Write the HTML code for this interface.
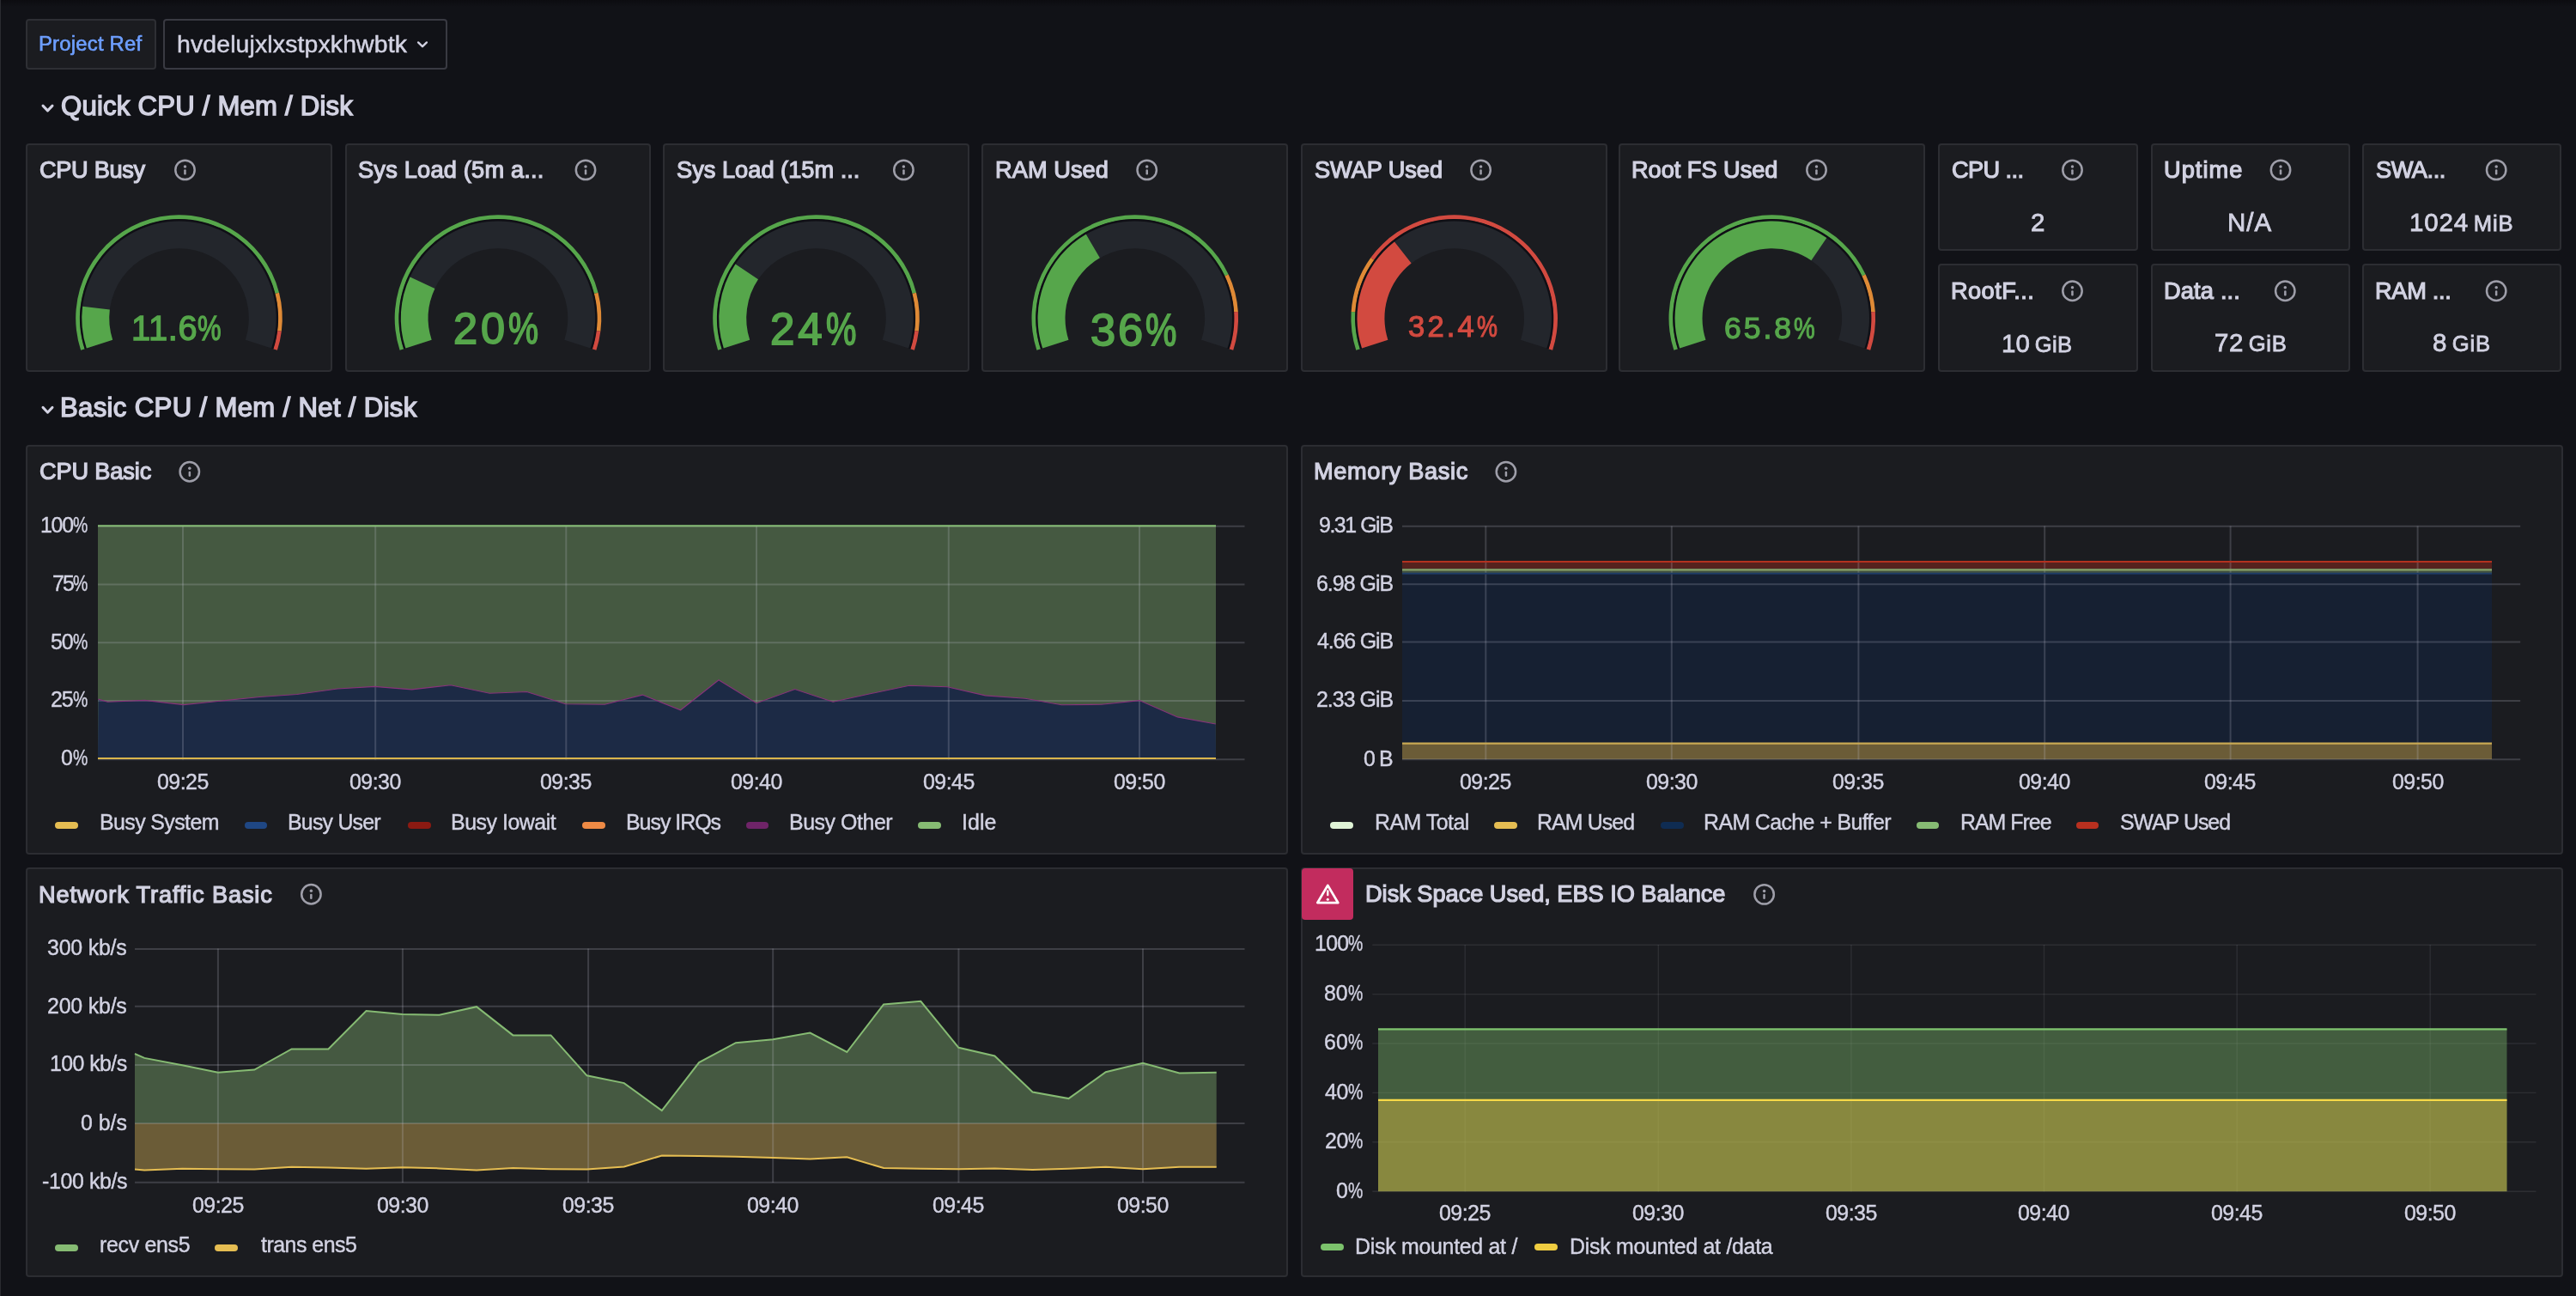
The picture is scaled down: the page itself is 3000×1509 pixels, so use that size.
<!DOCTYPE html>
<html><head><meta charset="utf-8"><title>Grafana</title><style>
*{box-sizing:border-box}
html,body{margin:0;padding:0;background:#111217;width:3000px;height:1509px;overflow:hidden}
body{position:relative;font-family:"Liberation Sans",sans-serif;color:#d2d2e2}
.p{position:absolute;border:2px solid #2c2d32;border-radius:4px}
.t{position:absolute;white-space:nowrap;line-height:1;will-change:transform;text-shadow:0 0 1.2px rgba(0,0,0,0.85)}
.pc{display:inline-block;transform:scaleX(0.78);transform-origin:0 0}
svg{position:absolute;left:0;top:0}
</style></head>
<body>
<script>(function(){var w=window.innerWidth;if(w&&Math.abs(w-3000)>2){document.documentElement.style.zoom=(w/3000);}})();</script>
<div class="p" style="left:30.0px;top:22.0px;width:152.0px;height:59.0px;background:#1b1c20;border-color:#2e2f34"></div>
<div class="p" style="left:190.0px;top:22.0px;width:331.0px;height:59.0px;background:#111217;border-color:#393a42"></div>
<div class="p" style="left:30.0px;top:166.7px;width:356.5px;height:265.9px;background:#1b1c20;"></div>
<div class="p" style="left:401.5px;top:166.7px;width:356.5px;height:265.9px;background:#1b1c20;"></div>
<div class="p" style="left:772.0px;top:166.7px;width:356.5px;height:265.9px;background:#1b1c20;"></div>
<div class="p" style="left:1143.3px;top:166.7px;width:356.5px;height:265.9px;background:#1b1c20;"></div>
<div class="p" style="left:1515.2px;top:166.7px;width:356.5px;height:265.9px;background:#1b1c20;"></div>
<div class="p" style="left:1885.3px;top:166.7px;width:356.5px;height:265.9px;background:#1b1c20;"></div>
<div class="p" style="left:2257.1px;top:166.7px;width:232.7px;height:125.5px;background:#1b1c20;"></div>
<div class="p" style="left:2257.1px;top:307.0px;width:232.7px;height:125.6px;background:#1b1c20;"></div>
<div class="p" style="left:2504.8px;top:166.7px;width:232.7px;height:125.5px;background:#1b1c20;"></div>
<div class="p" style="left:2504.8px;top:307.0px;width:232.7px;height:125.6px;background:#1b1c20;"></div>
<div class="p" style="left:2750.6px;top:166.7px;width:232.7px;height:125.5px;background:#1b1c20;"></div>
<div class="p" style="left:2750.6px;top:307.0px;width:232.7px;height:125.6px;background:#1b1c20;"></div>
<div class="p" style="left:29.7px;top:518.2px;width:1470.3px;height:476.8px;background:#1b1c20;"></div>
<div class="p" style="left:1515.0px;top:518.2px;width:1470.0px;height:476.8px;background:#1b1c20;"></div>
<div class="p" style="left:29.7px;top:1010.0px;width:1470.3px;height:477.0px;background:#1b1c20;"></div>
<div class="p" style="left:1515.0px;top:1010.0px;width:1470.0px;height:477.0px;background:#1b1c20;"></div>
<div class="p" style="left:1516.3px;top:1011.1px;width:59.6px;height:59.8px;background:#c22c5e;border:0;border-radius:4px"></div>
<svg width="3000" height="1509" viewBox="0 0 3000 1509">
<polyline points="487.1,49.4 492.0,54.2 496.9,49.4" fill="none" stroke="#d2d2e2" stroke-width="2.4" stroke-linecap="round" stroke-linejoin="round"/>
<polyline points="50.0,123.1 55.5,128.9 61.0,123.1" fill="none" stroke="#d2d2e2" stroke-width="3.0" stroke-linecap="round" stroke-linejoin="round"/>
<polyline points="50.0,474.4 55.5,480.2 61.0,474.4" fill="none" stroke="#d2d2e2" stroke-width="3.0" stroke-linecap="round" stroke-linejoin="round"/>
<circle cx="215.5" cy="197.9" r="11.2" fill="none" stroke="#9e9ea9" stroke-width="2.5"/><circle cx="215.5" cy="193.9" r="1.75" fill="#9e9ea9"/><rect x="214.2" y="197.3" width="2.5" height="6.2" rx="1.2" fill="#9e9ea9"/>
<circle cx="682.0" cy="197.9" r="11.2" fill="none" stroke="#9e9ea9" stroke-width="2.5"/><circle cx="682.0" cy="193.9" r="1.75" fill="#9e9ea9"/><rect x="680.8" y="197.3" width="2.5" height="6.2" rx="1.2" fill="#9e9ea9"/>
<circle cx="1052.4" cy="197.9" r="11.2" fill="none" stroke="#9e9ea9" stroke-width="2.5"/><circle cx="1052.4" cy="193.9" r="1.75" fill="#9e9ea9"/><rect x="1051.2" y="197.3" width="2.5" height="6.2" rx="1.2" fill="#9e9ea9"/>
<circle cx="1335.7" cy="197.9" r="11.2" fill="none" stroke="#9e9ea9" stroke-width="2.5"/><circle cx="1335.7" cy="193.9" r="1.75" fill="#9e9ea9"/><rect x="1334.5" y="197.3" width="2.5" height="6.2" rx="1.2" fill="#9e9ea9"/>
<circle cx="1724.6" cy="197.9" r="11.2" fill="none" stroke="#9e9ea9" stroke-width="2.5"/><circle cx="1724.6" cy="193.9" r="1.75" fill="#9e9ea9"/><rect x="1723.3" y="197.3" width="2.5" height="6.2" rx="1.2" fill="#9e9ea9"/>
<circle cx="2115.5" cy="197.9" r="11.2" fill="none" stroke="#9e9ea9" stroke-width="2.5"/><circle cx="2115.5" cy="193.9" r="1.75" fill="#9e9ea9"/><rect x="2114.2" y="197.3" width="2.5" height="6.2" rx="1.2" fill="#9e9ea9"/>
<path d="M94.09,407.77 A120.3,120.3 0 1 1 325.02,340.68 L320.18,341.93 A115.3,115.3 0 1 0 98.84,406.23 Z" fill="#56a64b"/>
<path d="M325.02,340.68 A120.3,120.3 0 0 1 327.85,385.68 L322.89,385.05 A115.3,115.3 0 0 0 320.18,341.93 Z" fill="#df8a36"/>
<path d="M327.85,385.68 A120.3,120.3 0 0 1 322.91,407.77 L318.16,406.23 A115.3,115.3 0 0 0 322.89,385.05 Z" fill="#d24a40"/>
<path d="M98.56,406.32 A115.6,115.6 0 1 1 318.44,406.32 L315.59,405.40 A112.6,112.6 0 1 0 101.41,405.40 Z" fill="#0f0f15"/>
<path d="M100.84,405.58 A113.2,113.2 0 1 1 316.16,405.58 L285.82,395.72 A81.3,81.3 0 1 0 131.18,395.72 Z" fill="#23262c"/>
<path d="M100.84,405.58 A113.2,113.2 0 0 1 96.16,356.69 L127.82,360.61 A81.3,81.3 0 0 0 131.18,395.72 Z" fill="#56a64b"/>
<path d="M465.59,407.77 A120.3,120.3 0 1 1 696.52,340.68 L691.68,341.93 A115.3,115.3 0 1 0 470.34,406.23 Z" fill="#56a64b"/>
<path d="M696.52,340.68 A120.3,120.3 0 0 1 699.35,385.68 L694.39,385.05 A115.3,115.3 0 0 0 691.68,341.93 Z" fill="#df8a36"/>
<path d="M699.35,385.68 A120.3,120.3 0 0 1 694.41,407.77 L689.66,406.23 A115.3,115.3 0 0 0 694.39,385.05 Z" fill="#d24a40"/>
<path d="M470.06,406.32 A115.6,115.6 0 1 1 689.94,406.32 L687.09,405.40 A112.6,112.6 0 1 0 472.91,405.40 Z" fill="#0f0f15"/>
<path d="M472.34,405.58 A113.2,113.2 0 1 1 687.66,405.58 L657.32,395.72 A81.3,81.3 0 1 0 502.68,395.72 Z" fill="#23262c"/>
<path d="M472.34,405.58 A113.2,113.2 0 0 1 477.57,322.40 L506.44,335.98 A81.3,81.3 0 0 0 502.68,395.72 Z" fill="#56a64b"/>
<path d="M836.09,407.77 A120.3,120.3 0 1 1 1067.02,340.68 L1062.18,341.93 A115.3,115.3 0 1 0 840.84,406.23 Z" fill="#56a64b"/>
<path d="M1067.02,340.68 A120.3,120.3 0 0 1 1069.85,385.68 L1064.89,385.05 A115.3,115.3 0 0 0 1062.18,341.93 Z" fill="#df8a36"/>
<path d="M1069.85,385.68 A120.3,120.3 0 0 1 1064.91,407.77 L1060.16,406.23 A115.3,115.3 0 0 0 1064.89,385.05 Z" fill="#d24a40"/>
<path d="M840.56,406.32 A115.6,115.6 0 1 1 1060.44,406.32 L1057.59,405.40 A112.6,112.6 0 1 0 843.41,405.40 Z" fill="#0f0f15"/>
<path d="M842.84,405.58 A113.2,113.2 0 1 1 1058.16,405.58 L1027.82,395.72 A81.3,81.3 0 1 0 873.18,395.72 Z" fill="#23262c"/>
<path d="M842.84,405.58 A113.2,113.2 0 0 1 856.48,307.56 L882.97,325.33 A81.3,81.3 0 0 0 873.18,395.72 Z" fill="#56a64b"/>
<path d="M1207.39,407.77 A120.3,120.3 0 0 1 1430.65,319.38 L1426.13,321.51 A115.3,115.3 0 0 0 1212.14,406.23 Z" fill="#56a64b"/>
<path d="M1430.65,319.38 A120.3,120.3 0 0 1 1441.86,363.05 L1436.87,363.36 A115.3,115.3 0 0 0 1426.13,321.51 Z" fill="#df8a36"/>
<path d="M1441.86,363.05 A120.3,120.3 0 0 1 1436.21,407.77 L1431.46,406.23 A115.3,115.3 0 0 0 1436.87,363.36 Z" fill="#d24a40"/>
<path d="M1211.86,406.32 A115.6,115.6 0 1 1 1431.74,406.32 L1428.89,405.40 A112.6,112.6 0 1 0 1214.71,405.40 Z" fill="#0f0f15"/>
<path d="M1214.14,405.58 A113.2,113.2 0 1 1 1429.46,405.58 L1399.12,395.72 A81.3,81.3 0 1 0 1244.48,395.72 Z" fill="#23262c"/>
<path d="M1214.14,405.58 A113.2,113.2 0 0 1 1264.79,272.80 L1280.86,300.36 A81.3,81.3 0 0 0 1244.48,395.72 Z" fill="#56a64b"/>
<path d="M1579.29,407.77 A120.3,120.3 0 0 1 1573.64,363.05 L1578.63,363.36 A115.3,115.3 0 0 0 1584.04,406.23 Z" fill="#56a64b"/>
<path d="M1573.64,363.05 A120.3,120.3 0 0 1 1596.38,299.89 L1600.42,302.83 A115.3,115.3 0 0 0 1578.63,363.36 Z" fill="#df8a36"/>
<path d="M1596.38,299.89 A120.3,120.3 0 0 1 1808.11,407.77 L1803.36,406.23 A115.3,115.3 0 0 0 1600.42,302.83 Z" fill="#d24a40"/>
<path d="M1583.76,406.32 A115.6,115.6 0 1 1 1803.64,406.32 L1800.79,405.40 A112.6,112.6 0 1 0 1586.61,405.40 Z" fill="#0f0f15"/>
<path d="M1586.04,405.58 A113.2,113.2 0 1 1 1801.36,405.58 L1771.02,395.72 A81.3,81.3 0 1 0 1616.38,395.72 Z" fill="#23262c"/>
<path d="M1586.04,405.58 A113.2,113.2 0 0 1 1623.98,281.42 L1643.63,306.55 A81.3,81.3 0 0 0 1616.38,395.72 Z" fill="#d24a40"/>
<path d="M1949.39,407.77 A120.3,120.3 0 0 1 2172.65,319.38 L2168.13,321.51 A115.3,115.3 0 0 0 1954.14,406.23 Z" fill="#56a64b"/>
<path d="M2172.65,319.38 A120.3,120.3 0 0 1 2183.86,363.05 L2178.87,363.36 A115.3,115.3 0 0 0 2168.13,321.51 Z" fill="#df8a36"/>
<path d="M2183.86,363.05 A120.3,120.3 0 0 1 2178.21,407.77 L2173.46,406.23 A115.3,115.3 0 0 0 2178.87,363.36 Z" fill="#d24a40"/>
<path d="M1953.86,406.32 A115.6,115.6 0 1 1 2173.74,406.32 L2170.89,405.40 A112.6,112.6 0 1 0 1956.71,405.40 Z" fill="#0f0f15"/>
<path d="M1956.14,405.58 A113.2,113.2 0 1 1 2171.46,405.58 L2141.12,395.72 A81.3,81.3 0 1 0 1986.48,395.72 Z" fill="#23262c"/>
<path d="M1956.14,405.58 A113.2,113.2 0 0 1 2127.31,276.89 L2109.41,303.30 A81.3,81.3 0 0 0 1986.48,395.72 Z" fill="#56a64b"/>
<circle cx="2413.5" cy="197.9" r="11.2" fill="none" stroke="#9e9ea9" stroke-width="2.5"/><circle cx="2413.5" cy="193.9" r="1.75" fill="#9e9ea9"/><rect x="2412.2" y="197.3" width="2.5" height="6.2" rx="1.2" fill="#9e9ea9"/>
<circle cx="2656.0" cy="197.9" r="11.2" fill="none" stroke="#9e9ea9" stroke-width="2.5"/><circle cx="2656.0" cy="193.9" r="1.75" fill="#9e9ea9"/><rect x="2654.8" y="197.3" width="2.5" height="6.2" rx="1.2" fill="#9e9ea9"/>
<circle cx="2907.2" cy="197.9" r="11.2" fill="none" stroke="#9e9ea9" stroke-width="2.5"/><circle cx="2907.2" cy="193.9" r="1.75" fill="#9e9ea9"/><rect x="2905.9" y="197.3" width="2.5" height="6.2" rx="1.2" fill="#9e9ea9"/>
<circle cx="2413.5" cy="338.8" r="11.2" fill="none" stroke="#9e9ea9" stroke-width="2.5"/><circle cx="2413.5" cy="334.8" r="1.75" fill="#9e9ea9"/><rect x="2412.2" y="338.2" width="2.5" height="6.2" rx="1.2" fill="#9e9ea9"/>
<circle cx="2661.3" cy="338.8" r="11.2" fill="none" stroke="#9e9ea9" stroke-width="2.5"/><circle cx="2661.3" cy="334.8" r="1.75" fill="#9e9ea9"/><rect x="2660.1" y="338.2" width="2.5" height="6.2" rx="1.2" fill="#9e9ea9"/>
<circle cx="2907.2" cy="338.8" r="11.2" fill="none" stroke="#9e9ea9" stroke-width="2.5"/><circle cx="2907.2" cy="334.8" r="1.75" fill="#9e9ea9"/><rect x="2905.9" y="338.2" width="2.5" height="6.2" rx="1.2" fill="#9e9ea9"/>
<path d="M1546.3,1030.9 L1558.3,1051.1 L1534.3,1051.1 Z" fill="none" stroke="#fff" stroke-width="2.8" stroke-linejoin="round"/><rect x="1545.15" y="1036.3" width="2.3" height="7" rx="1" fill="#fff"/><circle cx="1546.3" cy="1047.2" r="1.5" fill="#fff"/>
<circle cx="220.8" cy="549.3" r="11.2" fill="none" stroke="#9e9ea9" stroke-width="2.5"/><circle cx="220.8" cy="545.3" r="1.75" fill="#9e9ea9"/><rect x="219.6" y="548.7" width="2.5" height="6.2" rx="1.2" fill="#9e9ea9"/>
<circle cx="1753.9" cy="549.3" r="11.2" fill="none" stroke="#9e9ea9" stroke-width="2.5"/><circle cx="1753.9" cy="545.3" r="1.75" fill="#9e9ea9"/><rect x="1752.7" y="548.7" width="2.5" height="6.2" rx="1.2" fill="#9e9ea9"/>
<circle cx="362.4" cy="1041.3" r="11.2" fill="none" stroke="#9e9ea9" stroke-width="2.5"/><circle cx="362.4" cy="1037.3" r="1.75" fill="#9e9ea9"/><rect x="361.1" y="1040.7" width="2.5" height="6.2" rx="1.2" fill="#9e9ea9"/>
<circle cx="2054.6" cy="1041.4" r="11.2" fill="none" stroke="#9e9ea9" stroke-width="2.5"/><circle cx="2054.6" cy="1037.4" r="1.75" fill="#9e9ea9"/><rect x="2053.3" y="1040.8" width="2.5" height="6.2" rx="1.2" fill="#9e9ea9"/>
<rect x="114" y="612.5" width="1302" height="271.5" fill="#455941"/>
<polygon points="114,884 114.5,814.1 125.3,817.2 168.5,815.4 213.8,820.6 259.2,815.9 302.4,811.5 345.6,808.5 393.0,802.0 436.3,799.4 479.5,802.9 524.9,797.7 570.3,807.2 613.5,805.5 658.8,819.7 704.2,820.2 748.2,809.1 792.6,826.8 837.0,791.7 881.0,818.7 925.7,802.5 970.1,817.2 1014.5,807.5 1058.9,798.3 1103.2,799.8 1147.6,809.9 1193.9,813.3 1236.4,820.7 1282.7,820.3 1327.0,815.6 1371.4,834.9 1415.8,843.0 1416,884" fill="#1c2a45"/>
<line x1="114" y1="612.7" x2="1449.5" y2="612.7" stroke="rgba(204,204,220,0.20)" stroke-width="2"/>
<line x1="114" y1="680.4" x2="1449.5" y2="680.4" stroke="rgba(204,204,220,0.20)" stroke-width="2"/>
<line x1="114" y1="748.2" x2="1449.5" y2="748.2" stroke="rgba(204,204,220,0.20)" stroke-width="2"/>
<line x1="114" y1="816.0" x2="1449.5" y2="816.0" stroke="rgba(204,204,220,0.20)" stroke-width="2"/>
<line x1="114" y1="884.2" x2="1449.5" y2="884.2" stroke="rgba(204,204,220,0.20)" stroke-width="2"/>
<line x1="213.0" y1="612.5" x2="213.0" y2="884.5" stroke="rgba(204,204,220,0.20)" stroke-width="2"/>
<line x1="437.2" y1="612.5" x2="437.2" y2="884.5" stroke="rgba(204,204,220,0.20)" stroke-width="2"/>
<line x1="659.3" y1="612.5" x2="659.3" y2="884.5" stroke="rgba(204,204,220,0.20)" stroke-width="2"/>
<line x1="881.0" y1="612.5" x2="881.0" y2="884.5" stroke="rgba(204,204,220,0.20)" stroke-width="2"/>
<line x1="1104.8" y1="612.5" x2="1104.8" y2="884.5" stroke="rgba(204,204,220,0.20)" stroke-width="2"/>
<line x1="1327.0" y1="612.5" x2="1327.0" y2="884.5" stroke="rgba(204,204,220,0.20)" stroke-width="2"/>
<polyline points="114.5,814.1 125.3,817.2 168.5,815.4 213.8,820.6 259.2,815.9 302.4,811.5 345.6,808.5 393.0,802.0 436.3,799.4 479.5,802.9 524.9,797.7 570.3,807.2 613.5,805.5 658.8,819.7 704.2,820.2 748.2,809.1 792.6,826.8 837.0,791.7 881.0,818.7 925.7,802.5 970.1,817.2 1014.5,807.5 1058.9,798.3 1103.2,799.8 1147.6,809.9 1193.9,813.3 1236.4,820.7 1282.7,820.3 1327.0,815.6 1371.4,834.9 1415.8,843.0" fill="none" stroke="#86327a" stroke-width="1.1"/>
<line x1="114" y1="612.3" x2="1416" y2="612.3" stroke="#86bd74" stroke-width="2"/>
<line x1="114" y1="883" x2="1416" y2="883" stroke="#d9b54c" stroke-width="2"/>
<rect x="1633" y="653" width="1269" height="231" fill="#162032"/>
<rect x="1633" y="655" width="1269" height="7" fill="#55221e"/>
<rect x="1633" y="662" width="1269" height="5.5" fill="#435240"/>
<rect x="1633" y="865.5" width="1269" height="18.5" fill="#6b5c37"/>
<line x1="1633" y1="612.7" x2="2935.2" y2="612.7" stroke="rgba(204,204,220,0.20)" stroke-width="2"/>
<line x1="1633" y1="680.2" x2="2935.2" y2="680.2" stroke="rgba(204,204,220,0.20)" stroke-width="2"/>
<line x1="1633" y1="747.5" x2="2935.2" y2="747.5" stroke="rgba(204,204,220,0.20)" stroke-width="2"/>
<line x1="1633" y1="816.0" x2="2935.2" y2="816.0" stroke="rgba(204,204,220,0.20)" stroke-width="2"/>
<line x1="1633" y1="884.2" x2="2935.2" y2="884.2" stroke="rgba(204,204,220,0.20)" stroke-width="2"/>
<line x1="1730.3" y1="612.5" x2="1730.3" y2="884.5" stroke="rgba(204,204,220,0.20)" stroke-width="2"/>
<line x1="1946.8" y1="612.5" x2="1946.8" y2="884.5" stroke="rgba(204,204,220,0.20)" stroke-width="2"/>
<line x1="2164.4" y1="612.5" x2="2164.4" y2="884.5" stroke="rgba(204,204,220,0.20)" stroke-width="2"/>
<line x1="2381.2" y1="612.5" x2="2381.2" y2="884.5" stroke="rgba(204,204,220,0.20)" stroke-width="2"/>
<line x1="2597.6" y1="612.5" x2="2597.6" y2="884.5" stroke="rgba(204,204,220,0.20)" stroke-width="2"/>
<line x1="2815.6" y1="612.5" x2="2815.6" y2="884.5" stroke="rgba(204,204,220,0.20)" stroke-width="2"/>
<line x1="1633" y1="654" x2="2902" y2="654" stroke="#b3311f" stroke-width="2.2"/>
<line x1="1633" y1="663.6" x2="2902" y2="663.6" stroke="#8aa56a" stroke-width="2"/>
<line x1="1633" y1="667.8" x2="2902" y2="667.8" stroke="#1f3c66" stroke-width="2"/>
<line x1="1633" y1="865.6" x2="2902" y2="865.6" stroke="#c9a953" stroke-width="2.4"/>
<polygon points="157,1307.9 157.0,1227.0 168.2,1231.9 212.2,1240.3 253.9,1248.7 296.3,1245.5 339.6,1221.5 382.4,1221.5 426.5,1177.0 468.5,1181.0 511.7,1181.8 555.0,1172.2 597.4,1205.4 641.5,1205.4 683.5,1252.3 726.8,1261.1 770.8,1293.1 814.1,1237.1 856.9,1214.2 900.2,1210.2 943.4,1202.6 986.3,1225.0 1029.1,1169.4 1072.3,1165.8 1116.4,1219.8 1158.4,1229.5 1202.5,1271.5 1244.5,1279.1 1287.8,1248.3 1331.0,1237.9 1373.5,1249.5 1416.7,1248.7 1416.7,1307.9" fill="#455941"/>
<polygon points="157,1307.9 157.0,1361.6 168.2,1362.4 212.2,1360.8 253.9,1361.2 296.3,1361.6 339.6,1358.8 382.4,1359.6 426.5,1360.8 468.5,1359.2 511.7,1360.4 555.0,1362.4 597.4,1360.0 641.5,1361.2 683.5,1361.6 726.8,1358.4 770.8,1345.6 814.1,1346.0 856.9,1346.8 900.2,1348.0 943.4,1349.6 986.3,1347.2 1029.1,1360.0 1072.3,1360.8 1116.4,1361.2 1158.4,1360.4 1202.5,1362.0 1244.5,1360.8 1287.8,1358.8 1331.0,1361.2 1373.5,1358.8 1416.7,1358.8 1416.7,1307.9" fill="#6b5c37"/>
<line x1="157" y1="1104.9" x2="1449.5" y2="1104.9" stroke="rgba(204,204,220,0.20)" stroke-width="2"/>
<line x1="157" y1="1171.8" x2="1449.5" y2="1171.8" stroke="rgba(204,204,220,0.20)" stroke-width="2"/>
<line x1="157" y1="1239.9" x2="1449.5" y2="1239.9" stroke="rgba(204,204,220,0.20)" stroke-width="2"/>
<line x1="157" y1="1307.9" x2="1449.5" y2="1307.9" stroke="rgba(204,204,220,0.20)" stroke-width="2"/>
<line x1="157" y1="1376.8" x2="1449.5" y2="1376.8" stroke="rgba(204,204,220,0.20)" stroke-width="2"/>
<line x1="253.9" y1="1104.5" x2="253.9" y2="1377" stroke="rgba(204,204,220,0.20)" stroke-width="2"/>
<line x1="468.9" y1="1104.5" x2="468.9" y2="1377" stroke="rgba(204,204,220,0.20)" stroke-width="2"/>
<line x1="685.1" y1="1104.5" x2="685.1" y2="1377" stroke="rgba(204,204,220,0.20)" stroke-width="2"/>
<line x1="900.2" y1="1104.5" x2="900.2" y2="1377" stroke="rgba(204,204,220,0.20)" stroke-width="2"/>
<line x1="1116.4" y1="1104.5" x2="1116.4" y2="1377" stroke="rgba(204,204,220,0.20)" stroke-width="2"/>
<line x1="1331.0" y1="1104.5" x2="1331.0" y2="1377" stroke="rgba(204,204,220,0.20)" stroke-width="2"/>
<polyline points="157.0,1227.0 168.2,1231.9 212.2,1240.3 253.9,1248.7 296.3,1245.5 339.6,1221.5 382.4,1221.5 426.5,1177.0 468.5,1181.0 511.7,1181.8 555.0,1172.2 597.4,1205.4 641.5,1205.4 683.5,1252.3 726.8,1261.1 770.8,1293.1 814.1,1237.1 856.9,1214.2 900.2,1210.2 943.4,1202.6 986.3,1225.0 1029.1,1169.4 1072.3,1165.8 1116.4,1219.8 1158.4,1229.5 1202.5,1271.5 1244.5,1279.1 1287.8,1248.3 1331.0,1237.9 1373.5,1249.5 1416.7,1248.7" fill="none" stroke="#86bb73" stroke-width="2"/>
<polyline points="157.0,1361.6 168.2,1362.4 212.2,1360.8 253.9,1361.2 296.3,1361.6 339.6,1358.8 382.4,1359.6 426.5,1360.8 468.5,1359.2 511.7,1360.4 555.0,1362.4 597.4,1360.0 641.5,1361.2 683.5,1361.6 726.8,1358.4 770.8,1345.6 814.1,1346.0 856.9,1346.8 900.2,1348.0 943.4,1349.6 986.3,1347.2 1029.1,1360.0 1072.3,1360.8 1116.4,1361.2 1158.4,1360.4 1202.5,1362.0 1244.5,1360.8 1287.8,1358.8 1331.0,1361.2 1373.5,1358.8 1416.7,1358.8" fill="none" stroke="#e5bd52" stroke-width="2"/>
<line x1="1598.3" y1="1100.3" x2="2953.5" y2="1100.3" stroke="rgba(204,204,220,0.10)" stroke-width="1.4"/>
<line x1="1598.3" y1="1157.6" x2="2953.5" y2="1157.6" stroke="rgba(204,204,220,0.10)" stroke-width="1.4"/>
<line x1="1598.3" y1="1215.0" x2="2953.5" y2="1215.0" stroke="rgba(204,204,220,0.10)" stroke-width="1.4"/>
<line x1="1598.3" y1="1272.4" x2="2953.5" y2="1272.4" stroke="rgba(204,204,220,0.10)" stroke-width="1.4"/>
<line x1="1598.3" y1="1329.7" x2="2953.5" y2="1329.7" stroke="rgba(204,204,220,0.10)" stroke-width="1.4"/>
<line x1="1598.3" y1="1387.2" x2="2953.5" y2="1387.2" stroke="rgba(204,204,220,0.10)" stroke-width="1.4"/>
<line x1="1706.2" y1="1100" x2="1706.2" y2="1387.5" stroke="rgba(204,204,220,0.10)" stroke-width="1.4"/>
<line x1="1931.3" y1="1100" x2="1931.3" y2="1387.5" stroke="rgba(204,204,220,0.10)" stroke-width="1.4"/>
<line x1="2155.9" y1="1100" x2="2155.9" y2="1387.5" stroke="rgba(204,204,220,0.10)" stroke-width="1.4"/>
<line x1="2380.5" y1="1100" x2="2380.5" y2="1387.5" stroke="rgba(204,204,220,0.10)" stroke-width="1.4"/>
<line x1="2605.2" y1="1100" x2="2605.2" y2="1387.5" stroke="rgba(204,204,220,0.10)" stroke-width="1.4"/>
<line x1="2830.2" y1="1100" x2="2830.2" y2="1387.5" stroke="rgba(204,204,220,0.10)" stroke-width="1.4"/>
<rect x="1605" y="1198" width="1314.5" height="189.20000000000005" fill="rgba(118,172,103,0.45)"/>
<rect x="1605" y="1280.5" width="1314.5" height="106.70000000000005" fill="rgba(240,203,64,0.40)"/>
<line x1="1605" y1="1198.3" x2="2919.5" y2="1198.3" stroke="#7fc46e" stroke-width="2.2"/>
<line x1="1605" y1="1280.9" x2="2919.5" y2="1280.9" stroke="#f7d948" stroke-width="2.3"/>
</svg>
<div style="position:absolute;left:0;top:0;width:3000px;height:8px;background:linear-gradient(#0c0c10,rgba(17,18,23,0))"></div>
<div style="position:absolute;left:0;top:0;width:1.3px;height:1509px;background:#2a2b30"></div>
<div style="position:absolute;left:64.0px;top:956.8px;width:26.5px;height:8px;border-radius:4px;background:#e5bd52"></div>
<div style="position:absolute;left:284.7px;top:956.8px;width:26.5px;height:8px;border-radius:4px;background:#1f4784"></div>
<div style="position:absolute;left:475.0px;top:956.8px;width:26.5px;height:8px;border-radius:4px;background:#8c1a12"></div>
<div style="position:absolute;left:678.3px;top:956.8px;width:26.5px;height:8px;border-radius:4px;background:#ee8a45"></div>
<div style="position:absolute;left:868.6px;top:956.8px;width:26.5px;height:8px;border-radius:4px;background:#6f2468"></div>
<div style="position:absolute;left:1069.3px;top:956.8px;width:26.5px;height:8px;border-radius:4px;background:#86bb73"></div>
<div style="position:absolute;left:1549.4px;top:956.8px;width:26.5px;height:8px;border-radius:4px;background:#dff3d6"></div>
<div style="position:absolute;left:1740.0px;top:956.8px;width:26.5px;height:8px;border-radius:4px;background:#e5bd52"></div>
<div style="position:absolute;left:1934.0px;top:956.8px;width:26.5px;height:8px;border-radius:4px;background:#0f2c52"></div>
<div style="position:absolute;left:2231.9px;top:956.8px;width:26.5px;height:8px;border-radius:4px;background:#86bb73"></div>
<div style="position:absolute;left:2417.5px;top:956.8px;width:26.5px;height:8px;border-radius:4px;background:#b8301f"></div>
<div style="position:absolute;left:64.2px;top:1448.5px;width:26.5px;height:8px;border-radius:4px;background:#86bb73"></div>
<div style="position:absolute;left:250.3px;top:1448.5px;width:26.5px;height:8px;border-radius:4px;background:#e5bd52"></div>
<div style="position:absolute;left:1538.4px;top:1448.4px;width:26.5px;height:8px;border-radius:4px;background:#7cc26c"></div>
<div style="position:absolute;left:1787.4px;top:1448.4px;width:26.5px;height:8px;border-radius:4px;background:#f0cd41"></div>
<div class="t" style="left:45.47px;top:39.09px;font-size:23.82px;color:#6e9fff;letter-spacing:0.23px;-webkit-text-stroke:0.67px #6e9fff;">Project Ref</div>
<div class="t" style="left:206.40px;top:37.09px;font-size:28.40px;color:#d2d2e2;letter-spacing:0.15px;-webkit-text-stroke:0.51px #d2d2e2;">hvdelujxlxstpxkhwbtk</div>
<div class="t" style="left:70.88px;top:107.56px;font-size:31.14px;color:#d2d2e2;letter-spacing:0.21px;-webkit-text-stroke:1.40px #d2d2e2;">Quick CPU / Mem / Disk</div>
<div class="t" style="left:69.50px;top:458.76px;font-size:31.14px;color:#d2d2e2;letter-spacing:0.33px;-webkit-text-stroke:1.40px #d2d2e2;">Basic CPU / Mem / Net / Disk</div>
<div class="t" style="left:46.40px;top:183.71px;font-size:27.19px;color:#d2d2e2;letter-spacing:-0.33px;-webkit-text-stroke:1.22px #d2d2e2;">CPU Busy</div>
<div class="t" style="left:417.41px;top:183.71px;font-size:27.19px;color:#d2d2e2;letter-spacing:0.21px;-webkit-text-stroke:1.22px #d2d2e2;">Sys Load (5m a...</div>
<div class="t" style="left:787.71px;top:183.71px;font-size:27.19px;color:#d2d2e2;letter-spacing:0.02px;-webkit-text-stroke:1.22px #d2d2e2;">Sys Load (15m ...</div>
<div class="t" style="left:1158.54px;top:183.71px;font-size:27.19px;color:#d2d2e2;letter-spacing:0.07px;-webkit-text-stroke:1.22px #d2d2e2;">RAM Used</div>
<div class="t" style="left:1531.31px;top:183.71px;font-size:27.19px;color:#d2d2e2;letter-spacing:-0.07px;-webkit-text-stroke:1.22px #d2d2e2;">SWAP Used</div>
<div class="t" style="left:1900.34px;top:183.71px;font-size:27.19px;color:#d2d2e2;letter-spacing:-0.03px;-webkit-text-stroke:1.22px #d2d2e2;">Root FS Used</div>
<div class="t" style="left:153.21px;top:362.86px;font-size:39.75px;color:#56a64b;letter-spacing:0.74px;-webkit-text-stroke:1.39px #56a64b;">11.6<span class="pc">%</span></div>
<div class="t" style="left:528.18px;top:358.40px;font-size:50.47px;color:#56a64b;letter-spacing:4.00px;-webkit-text-stroke:1.77px #56a64b;">20<span class="pc">%</span></div>
<div class="t" style="left:897.32px;top:357.60px;font-size:51.02px;color:#56a64b;letter-spacing:3.92px;-webkit-text-stroke:1.79px #56a64b;">24<span class="pc">%</span></div>
<div class="t" style="left:1269.77px;top:357.90px;font-size:52.41px;color:#56a64b;letter-spacing:2.77px;-webkit-text-stroke:1.83px #56a64b;">36<span class="pc">%</span></div>
<div class="t" style="left:1639.80px;top:362.51px;font-size:34.52px;color:#d24a40;letter-spacing:3.18px;-webkit-text-stroke:1.21px #d24a40;">32.4<span class="pc">%</span></div>
<div class="t" style="left:2008.19px;top:364.71px;font-size:35.58px;color:#56a64b;letter-spacing:2.92px;-webkit-text-stroke:1.25px #56a64b;">65.8<span class="pc">%</span></div>
<div class="t" style="left:2273.00px;top:183.71px;font-size:27.19px;color:#d2d2e2;letter-spacing:-0.60px;-webkit-text-stroke:1.22px #d2d2e2;">CPU ...</div>
<div class="t" style="left:2519.79px;top:183.71px;font-size:27.19px;color:#d2d2e2;letter-spacing:1.06px;-webkit-text-stroke:1.22px #d2d2e2;">Uptime</div>
<div class="t" style="left:2766.51px;top:183.71px;font-size:27.19px;color:#d2d2e2;letter-spacing:-0.46px;-webkit-text-stroke:1.22px #d2d2e2;">SWA...</div>
<div class="t" style="left:2272.14px;top:324.71px;font-size:27.19px;color:#d2d2e2;letter-spacing:0.43px;-webkit-text-stroke:1.22px #d2d2e2;">RootF...</div>
<div class="t" style="left:2519.64px;top:324.71px;font-size:27.19px;color:#d2d2e2;letter-spacing:0.18px;-webkit-text-stroke:1.22px #d2d2e2;">Data ...</div>
<div class="t" style="left:2765.54px;top:324.71px;font-size:27.19px;color:#d2d2e2;letter-spacing:-0.30px;-webkit-text-stroke:1.22px #d2d2e2;">RAM ...</div>
<div class="t" style="left:2364.79px;top:243.91px;font-size:29.51px;color:#d2d2e2;-webkit-text-stroke:0.83px #d2d2e2;">2</div>
<div class="t" style="left:2593.96px;top:244.11px;font-size:29.51px;color:#d2d2e2;letter-spacing:0.99px;-webkit-text-stroke:0.83px #d2d2e2;">N/A</div>
<div class="t" style="left:2805.76px;top:243.61px;font-size:29.51px;color:#d2d2e2;letter-spacing:0.87px;-webkit-text-stroke:0.83px #d2d2e2;">1024<span style="font-size:0.87em;margin-left:0.22em">MiB</span></div>
<div class="t" style="left:2331.06px;top:384.71px;font-size:29.51px;color:#d2d2e2;letter-spacing:0.19px;-webkit-text-stroke:0.83px #d2d2e2;">10<span style="font-size:0.87em;margin-left:0.22em">GiB</span></div>
<div class="t" style="left:2578.68px;top:384.41px;font-size:29.51px;color:#d2d2e2;letter-spacing:0.63px;-webkit-text-stroke:0.83px #d2d2e2;">72<span style="font-size:0.87em;margin-left:0.22em">GiB</span></div>
<div class="t" style="left:2833.09px;top:384.41px;font-size:29.51px;color:#d2d2e2;letter-spacing:0.77px;-webkit-text-stroke:0.83px #d2d2e2;">8<span style="font-size:0.87em;margin-left:0.22em">GiB</span></div>
<div class="t" style="left:46.00px;top:535.21px;font-size:27.19px;color:#d2d2e2;letter-spacing:-0.15px;-webkit-text-stroke:1.22px #d2d2e2;">CPU Basic</div>
<div class="t" style="left:1530.04px;top:535.21px;font-size:27.19px;color:#d2d2e2;letter-spacing:0.65px;-webkit-text-stroke:1.22px #d2d2e2;">Memory Basic</div>
<div class="t" style="left:45.34px;top:1027.71px;font-size:27.19px;color:#d2d2e2;letter-spacing:0.85px;-webkit-text-stroke:1.22px #d2d2e2;">Network Traffic Basic</div>
<div class="t" style="left:1590.04px;top:1027.11px;font-size:27.19px;color:#d2d2e2;letter-spacing:-0.02px;-webkit-text-stroke:1.22px #d2d2e2;">Disk Space Used, EBS IO Balance</div>
<div class="t" style="left:47.31px;top:598.94px;font-size:24.91px;color:#d2d2e2;letter-spacing:-1.28px;-webkit-text-stroke:0.45px #d2d2e2;">100<span class="pc">%</span></div>
<div class="t" style="left:61.31px;top:667.24px;font-size:24.91px;color:#d2d2e2;letter-spacing:-1.82px;-webkit-text-stroke:0.45px #d2d2e2;">75<span class="pc">%</span></div>
<div class="t" style="left:59.31px;top:735.14px;font-size:24.91px;color:#d2d2e2;letter-spacing:-1.04px;-webkit-text-stroke:0.45px #d2d2e2;">50<span class="pc">%</span></div>
<div class="t" style="left:59.31px;top:802.44px;font-size:24.91px;color:#d2d2e2;letter-spacing:-1.02px;-webkit-text-stroke:0.45px #d2d2e2;">25<span class="pc">%</span></div>
<div class="t" style="left:71.31px;top:870.14px;font-size:24.91px;color:#d2d2e2;letter-spacing:-0.13px;-webkit-text-stroke:0.45px #d2d2e2;">0<span class="pc">%</span></div>
<div class="t" style="left:182.85px;top:898.44px;font-size:24.91px;color:#d2d2e2;letter-spacing:-0.50px;-webkit-text-stroke:0.45px #d2d2e2;">09:25</div>
<div class="t" style="left:407.11px;top:898.44px;font-size:24.91px;color:#d2d2e2;letter-spacing:-0.52px;-webkit-text-stroke:0.45px #d2d2e2;">09:30</div>
<div class="t" style="left:629.15px;top:898.44px;font-size:24.91px;color:#d2d2e2;letter-spacing:-0.50px;-webkit-text-stroke:0.45px #d2d2e2;">09:35</div>
<div class="t" style="left:850.91px;top:898.44px;font-size:24.91px;color:#d2d2e2;letter-spacing:-0.52px;-webkit-text-stroke:0.45px #d2d2e2;">09:40</div>
<div class="t" style="left:1074.65px;top:898.44px;font-size:24.91px;color:#d2d2e2;letter-spacing:-0.50px;-webkit-text-stroke:0.45px #d2d2e2;">09:45</div>
<div class="t" style="left:1296.91px;top:898.44px;font-size:24.91px;color:#d2d2e2;letter-spacing:-0.52px;-webkit-text-stroke:0.45px #d2d2e2;">09:50</div>
<div class="t" style="left:115.61px;top:944.99px;font-size:24.91px;color:#d2d2e2;letter-spacing:-0.59px;-webkit-text-stroke:0.45px #d2d2e2;">Busy System</div>
<div class="t" style="left:335.31px;top:944.99px;font-size:24.91px;color:#d2d2e2;letter-spacing:-0.78px;-webkit-text-stroke:0.45px #d2d2e2;">Busy User</div>
<div class="t" style="left:525.31px;top:944.99px;font-size:24.91px;color:#d2d2e2;letter-spacing:-0.47px;-webkit-text-stroke:0.45px #d2d2e2;">Busy Iowait</div>
<div class="t" style="left:729.21px;top:944.99px;font-size:24.91px;color:#d2d2e2;letter-spacing:-1.00px;-webkit-text-stroke:0.45px #d2d2e2;">Busy IRQs</div>
<div class="t" style="left:919.01px;top:944.99px;font-size:24.91px;color:#d2d2e2;letter-spacing:-0.44px;-webkit-text-stroke:0.45px #d2d2e2;">Busy Other</div>
<div class="t" style="left:1119.55px;top:944.99px;font-size:24.91px;color:#d2d2e2;letter-spacing:0.09px;-webkit-text-stroke:0.45px #d2d2e2;">Idle</div>
<div class="t" style="left:1536.02px;top:599.04px;font-size:24.91px;color:#d2d2e2;letter-spacing:-1.45px;-webkit-text-stroke:0.45px #d2d2e2;">9.31 GiB</div>
<div class="t" style="left:1533.02px;top:667.34px;font-size:24.91px;color:#d2d2e2;letter-spacing:-0.98px;-webkit-text-stroke:0.45px #d2d2e2;">6.98 GiB</div>
<div class="t" style="left:1533.86px;top:734.04px;font-size:24.91px;color:#d2d2e2;letter-spacing:-1.11px;-webkit-text-stroke:0.45px #d2d2e2;">4.66 GiB</div>
<div class="t" style="left:1533.02px;top:802.34px;font-size:24.91px;color:#d2d2e2;letter-spacing:-0.98px;-webkit-text-stroke:0.45px #d2d2e2;">2.33 GiB</div>
<div class="t" style="left:1588.46px;top:871.04px;font-size:24.91px;color:#d2d2e2;letter-spacing:-1.39px;-webkit-text-stroke:0.45px #d2d2e2;">0 B</div>
<div class="t" style="left:1700.15px;top:898.44px;font-size:24.91px;color:#d2d2e2;letter-spacing:-0.50px;-webkit-text-stroke:0.45px #d2d2e2;">09:25</div>
<div class="t" style="left:1916.71px;top:898.44px;font-size:24.91px;color:#d2d2e2;letter-spacing:-0.52px;-webkit-text-stroke:0.45px #d2d2e2;">09:30</div>
<div class="t" style="left:2134.25px;top:898.44px;font-size:24.91px;color:#d2d2e2;letter-spacing:-0.50px;-webkit-text-stroke:0.45px #d2d2e2;">09:35</div>
<div class="t" style="left:2351.11px;top:898.44px;font-size:24.91px;color:#d2d2e2;letter-spacing:-0.52px;-webkit-text-stroke:0.45px #d2d2e2;">09:40</div>
<div class="t" style="left:2567.45px;top:898.44px;font-size:24.91px;color:#d2d2e2;letter-spacing:-0.50px;-webkit-text-stroke:0.45px #d2d2e2;">09:45</div>
<div class="t" style="left:2785.51px;top:898.44px;font-size:24.91px;color:#d2d2e2;letter-spacing:-0.52px;-webkit-text-stroke:0.45px #d2d2e2;">09:50</div>
<div class="t" style="left:1600.51px;top:944.99px;font-size:24.91px;color:#d2d2e2;letter-spacing:-0.52px;-webkit-text-stroke:0.45px #d2d2e2;">RAM Total</div>
<div class="t" style="left:1790.31px;top:944.99px;font-size:24.91px;color:#d2d2e2;letter-spacing:-0.91px;-webkit-text-stroke:0.45px #d2d2e2;">RAM Used</div>
<div class="t" style="left:1983.61px;top:944.99px;font-size:24.91px;color:#d2d2e2;letter-spacing:-0.60px;-webkit-text-stroke:0.45px #d2d2e2;">RAM Cache + Buffer</div>
<div class="t" style="left:2282.71px;top:944.99px;font-size:24.91px;color:#d2d2e2;letter-spacing:-1.00px;-webkit-text-stroke:0.45px #d2d2e2;">RAM Free</div>
<div class="t" style="left:2468.66px;top:944.99px;font-size:24.91px;color:#d2d2e2;letter-spacing:-1.00px;-webkit-text-stroke:0.45px #d2d2e2;">SWAP Used</div>
<div class="t" style="left:55.46px;top:1091.24px;font-size:24.91px;color:#d2d2e2;letter-spacing:-0.21px;-webkit-text-stroke:0.45px #d2d2e2;">300 kb/s</div>
<div class="t" style="left:55.46px;top:1159.34px;font-size:24.91px;color:#d2d2e2;letter-spacing:-0.19px;-webkit-text-stroke:0.45px #d2d2e2;">200 kb/s</div>
<div class="t" style="left:58.25px;top:1226.24px;font-size:24.91px;color:#d2d2e2;letter-spacing:-0.58px;-webkit-text-stroke:0.45px #d2d2e2;">100 kb/s</div>
<div class="t" style="left:94.25px;top:1294.64px;font-size:24.91px;color:#d2d2e2;-webkit-text-stroke:0.45px #d2d2e2;">0 b/s</div>
<div class="t" style="left:48.62px;top:1362.74px;font-size:24.91px;color:#d2d2e2;letter-spacing:-0.36px;-webkit-text-stroke:0.45px #d2d2e2;">-100 kb/s</div>
<div class="t" style="left:223.75px;top:1390.74px;font-size:24.91px;color:#d2d2e2;letter-spacing:-0.50px;-webkit-text-stroke:0.45px #d2d2e2;">09:25</div>
<div class="t" style="left:438.81px;top:1390.74px;font-size:24.91px;color:#d2d2e2;letter-spacing:-0.52px;-webkit-text-stroke:0.45px #d2d2e2;">09:30</div>
<div class="t" style="left:654.95px;top:1390.74px;font-size:24.91px;color:#d2d2e2;letter-spacing:-0.50px;-webkit-text-stroke:0.45px #d2d2e2;">09:35</div>
<div class="t" style="left:870.11px;top:1390.74px;font-size:24.91px;color:#d2d2e2;letter-spacing:-0.52px;-webkit-text-stroke:0.45px #d2d2e2;">09:40</div>
<div class="t" style="left:1086.25px;top:1390.74px;font-size:24.91px;color:#d2d2e2;letter-spacing:-0.50px;-webkit-text-stroke:0.45px #d2d2e2;">09:45</div>
<div class="t" style="left:1300.91px;top:1390.74px;font-size:24.91px;color:#d2d2e2;letter-spacing:-0.52px;-webkit-text-stroke:0.45px #d2d2e2;">09:50</div>
<div class="t" style="left:116.12px;top:1436.89px;font-size:24.91px;color:#d2d2e2;letter-spacing:-0.31px;-webkit-text-stroke:0.45px #d2d2e2;">recv ens5</div>
<div class="t" style="left:303.61px;top:1436.89px;font-size:24.91px;color:#d2d2e2;letter-spacing:-0.49px;-webkit-text-stroke:0.45px #d2d2e2;">trans ens5</div>
<div class="t" style="left:1530.91px;top:1086.04px;font-size:24.91px;color:#d2d2e2;letter-spacing:-0.71px;-webkit-text-stroke:0.45px #d2d2e2;">100<span class="pc">%</span></div>
<div class="t" style="left:1541.91px;top:1144.14px;font-size:24.91px;color:#d2d2e2;letter-spacing:-0.03px;-webkit-text-stroke:0.45px #d2d2e2;">80<span class="pc">%</span></div>
<div class="t" style="left:1541.91px;top:1201.34px;font-size:24.91px;color:#d2d2e2;letter-spacing:0.03px;-webkit-text-stroke:0.45px #d2d2e2;">60<span class="pc">%</span></div>
<div class="t" style="left:1542.91px;top:1258.64px;font-size:24.91px;color:#d2d2e2;letter-spacing:-0.41px;-webkit-text-stroke:0.45px #d2d2e2;">40<span class="pc">%</span></div>
<div class="t" style="left:1542.91px;top:1315.94px;font-size:24.91px;color:#d2d2e2;letter-spacing:-0.32px;-webkit-text-stroke:0.45px #d2d2e2;">20<span class="pc">%</span></div>
<div class="t" style="left:1555.91px;top:1373.54px;font-size:24.91px;color:#d2d2e2;letter-spacing:0.37px;-webkit-text-stroke:0.45px #d2d2e2;">0<span class="pc">%</span></div>
<div class="t" style="left:1676.05px;top:1400.34px;font-size:24.91px;color:#d2d2e2;letter-spacing:-0.50px;-webkit-text-stroke:0.45px #d2d2e2;">09:25</div>
<div class="t" style="left:1901.21px;top:1400.34px;font-size:24.91px;color:#d2d2e2;letter-spacing:-0.52px;-webkit-text-stroke:0.45px #d2d2e2;">09:30</div>
<div class="t" style="left:2125.75px;top:1400.34px;font-size:24.91px;color:#d2d2e2;letter-spacing:-0.50px;-webkit-text-stroke:0.45px #d2d2e2;">09:35</div>
<div class="t" style="left:2350.41px;top:1400.34px;font-size:24.91px;color:#d2d2e2;letter-spacing:-0.52px;-webkit-text-stroke:0.45px #d2d2e2;">09:40</div>
<div class="t" style="left:2575.05px;top:1400.34px;font-size:24.91px;color:#d2d2e2;letter-spacing:-0.50px;-webkit-text-stroke:0.45px #d2d2e2;">09:45</div>
<div class="t" style="left:2800.11px;top:1400.34px;font-size:24.91px;color:#d2d2e2;letter-spacing:-0.52px;-webkit-text-stroke:0.45px #d2d2e2;">09:50</div>
<div class="t" style="left:1578.41px;top:1438.69px;font-size:24.91px;color:#d2d2e2;letter-spacing:-0.28px;-webkit-text-stroke:0.45px #d2d2e2;">Disk mounted at /</div>
<div class="t" style="left:1827.51px;top:1438.69px;font-size:24.91px;color:#d2d2e2;letter-spacing:-0.28px;-webkit-text-stroke:0.45px #d2d2e2;">Disk mounted at /data</div>
</body></html>
